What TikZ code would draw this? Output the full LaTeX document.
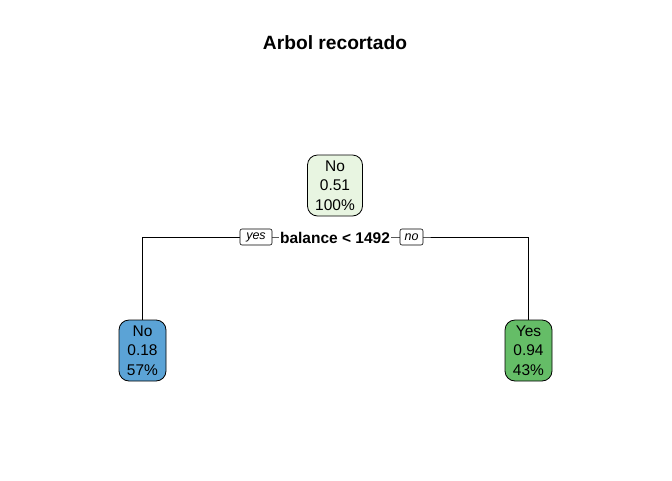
\documentclass[tikz,border=0pt]{standalone}
\usepackage{fontspec}
\setmainfont{Liberation Sans}

\definecolor{rootfill}{RGB}{232,245,225}
\definecolor{nofill}{RGB}{91,163,214}
\definecolor{yesfill}{RGB}{101,189,103}

\tikzset{
	leaf/.style={draw, line width=0.8pt, rounded corners=10pt, align=center, inner sep=0pt,
		minimum width=47pt, minimum height=61pt, font=\fontsize{15.5}{19.5}\selectfont},
	tag/.style={draw, fill=white, line width=0.6pt, rounded corners=2pt, inner sep=0pt,
		minimum height=16pt, font=\fontsize{12.5}{13}\selectfont\itshape},
}

\begin{document}
\begin{tikzpicture}[x=1pt,y=-1pt]
	\useasboundingbox (0,0) rectangle (672,480);
	\node (title) at (335,43) {\fontsize{19.2}{22}\selectfont\bfseries Arbol recortado};
	\node [leaf, fill=rootfill, minimum width=55pt] (root) at (335,185.5) {No\\0.51\\100\%};
	\node [leaf, fill=nofill] (left) at (142.5,350.5) {No\\0.18\\57\%};
	\node [leaf, fill=yesfill] (right) at (528.5,350.5) {Yes\\0.94\\43\%};
	\coordinate (fork) at (335,237);
	\draw [line width=0.8pt] (left.north) |- (fork) -| (right.north);
	\node [fill=white, inner sep=1pt, font=\fontsize{15.5}{16}\selectfont\bfseries] (split) at (335,238) {balance < 1492};
	\node [tag, minimum width=32pt] (yes) at (256,237) {yes};
	\node [tag, minimum width=23pt] (no) at (411.5,237) {no};
\end{tikzpicture}
\end{document}
